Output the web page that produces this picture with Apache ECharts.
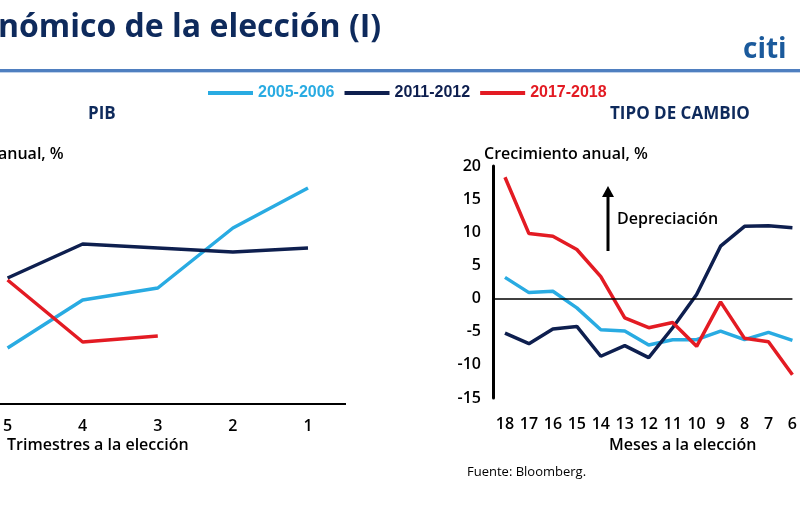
<!DOCTYPE html>
<html>
<head>
<meta charset="utf-8">
<script src="https://cdn.jsdelivr.net/npm/echarts@6/dist/echarts.min.js"></script>
<style>html,body{margin:0;padding:0;background:#fff}#main{width:800px;height:505px}</style>
</head>
<body>
<div id="main"></div>
<script>
// PIB: trimestres a la eleccion
var pibCats = ['5', '4', '3', '2', '1'];
var pib0506 = [1.4, 2.6, 2.9, 4.4, 5.4];
var pib1112 = [3.15, 4.0, 3.9, 3.8, 3.9];
var pib1718 = [3.1, 1.55, 1.7, null, null];

// Tipo de cambio: meses a la eleccion
var tcMonths = [18, 17, 16, 15, 14, 13, 12, 11, 10, 9, 8, 7, 6];
var tc0506 = [3.2, 0.9, 1.1, -1.4, -4.7, -4.9, -7.0, -6.2, -6.2, -4.9, -6.2, -5.1, -6.3];
var tc1112 = [-5.2, -6.8, -4.6, -4.2, -8.7, -7.1, -8.9, -4.4, 0.6, 7.9, 10.9, 11.0, 10.7];
var tc1718 = [18.3, 9.8, 9.4, 7.4, 3.3, -2.9, -4.4, -3.6, -7.2, -0.5, -6.0, -6.5, -11.5];

var names = ['2005-2006', '2011-2012', '2017-2018'];
var colors = ['#29ABE2', '#0E1F4F', '#E31B23'];
var navy = '#0E2A5C';
var lbl = {color: '#000', fontFamily: 'Open Sans', fontWeight: 600, fontSize: 16};

var chart = echarts.init(document.getElementById('main'));

function pairs(vals) {
  return tcMonths.map(function (m, i) { return [m, vals[i]]; });
}

function mk(i, gi, data) {
  return {
    name: names[i], type: 'line', xAxisIndex: gi, yAxisIndex: gi, data: data,
    symbol: 'none', connectNulls: false,
    lineStyle: {color: colors[i], width: 3.5}, itemStyle: {color: colors[i]}
  };
}

chart.setOption({
  animation: false,
  color: colors,
  legend: {
    left: 203, top: 80, itemWidth: 45, itemHeight: 4, itemGap: 10, icon: 'rect',
    textStyle: {fontFamily: 'Liberation Sans', fontWeight: 'bold', fontSize: 16},
    data: [
      {name: names[0], textStyle: {color: colors[0]}},
      {name: names[1], textStyle: {color: colors[1]}},
      {name: names[2], textStyle: {color: colors[2]}}
    ]
  },
  grid: [
    {left: 3, width: 305, top: 140, height: 264},
    {left: 493, width: 307, top: 166, height: 232}
  ],
  xAxis: [
    {gridIndex: 0, type: 'category', data: pibCats, boundaryGap: false,
     axisLine: {lineStyle: {color: '#000', width: 2}}, axisTick: {show: false},
     axisLabel: Object.assign({margin: 14}, lbl)},
    {gridIndex: 1, type: 'value', inverse: true, min: 6, max: 18.5, interval: 1,
     axisLine: {show: false}, axisTick: {show: false}, splitLine: {show: false},
     axisLabel: Object.assign({margin: 18, showMaxLabel: false}, lbl)}
  ],
  yAxis: [
    {gridIndex: 0, type: 'value', min: 0, max: 6.6, show: false},
    {gridIndex: 1, type: 'value', min: -15, max: 20, interval: 5,
     axisLine: {show: true, onZero: false, lineStyle: {color: '#000', width: 3}},
     axisTick: {show: false}, splitLine: {show: false},
     axisLabel: Object.assign({margin: 12}, lbl)}
  ],
  series: [
    mk(0, 0, pib0506), mk(1, 0, pib1112), mk(2, 0, pib1718),
    mk(0, 1, pairs(tc0506)), mk(1, 1, pairs(tc1112)), mk(2, 1, pairs(tc1718)),
    {type: 'line', xAxisIndex: 1, yAxisIndex: 1, data: [], silent: true,
     markLine: {silent: true, symbol: 'none', label: {show: false},
       lineStyle: {color: '#000', width: 1.5, type: 'solid'}, data: [{yAxis: 0}]}}
  ],
  graphic: [
    {type: 'text', left: -2, top: 12, style: {text: 'nómico de la elección (I)', fill: navy,
      font: 'bold 32px "Open Sans"'}},
    {type: 'text', left: 743, top: 36, style: {text: 'citi', fill: '#1B5A9C',
      font: 'bold 28px "Open Sans"'}},
    {type: 'rect', shape: {x: 0, y: 69, width: 800, height: 3}, style: {fill: '#4F7FC0'}},
    {type: 'rect', shape: {x: 0, y: 72, width: 800, height: 1}, style: {fill: '#BFD1EA'}},
    {type: 'rect', shape: {x: 0, y: 403, width: 346, height: 2}, style: {fill: '#000'}},
    {type: 'text', left: 88, top: 106, style: {text: 'PIB', fill: navy, font: 'bold 17px "Open Sans"'}},
    {type: 'text', left: 610, top: 106, style: {text: 'TIPO DE CAMBIO', fill: navy, font: 'bold 17px "Open Sans"'}},
    {type: 'text', left: -2, top: 146, style: {text: 'anual, %', fill: '#000', font: '600 16px "Open Sans"'}},
    {type: 'text', left: 484, top: 146, style: {text: 'Crecimiento anual, %', fill: '#000', font: '600 16px "Open Sans"'}},
    {type: 'text', left: 7, top: 437, style: {text: 'Trimestres a la elección', fill: '#000', font: '600 16px "Open Sans"'}},
    {type: 'text', left: 609, top: 437, style: {text: 'Meses a la elección', fill: '#000', font: '600 16px "Open Sans"'}},
    {type: 'text', left: 467, top: 466, style: {text: 'Fuente: Bloomberg.', fill: '#000', font: '13px "Open Sans"'}},
    {type: 'text', left: 617, top: 211, style: {text: 'Depreciación', fill: '#000', font: '600 16px "Open Sans"'}},
    {type: 'line', shape: {x1: 608, y1: 251, x2: 608, y2: 196}, style: {stroke: '#000', lineWidth: 3}},
    {type: 'polygon', shape: {points: [[602, 197], [614, 197], [608, 186]]}, style: {fill: '#000'}}
  ]
});
</script>
</body>
</html>
